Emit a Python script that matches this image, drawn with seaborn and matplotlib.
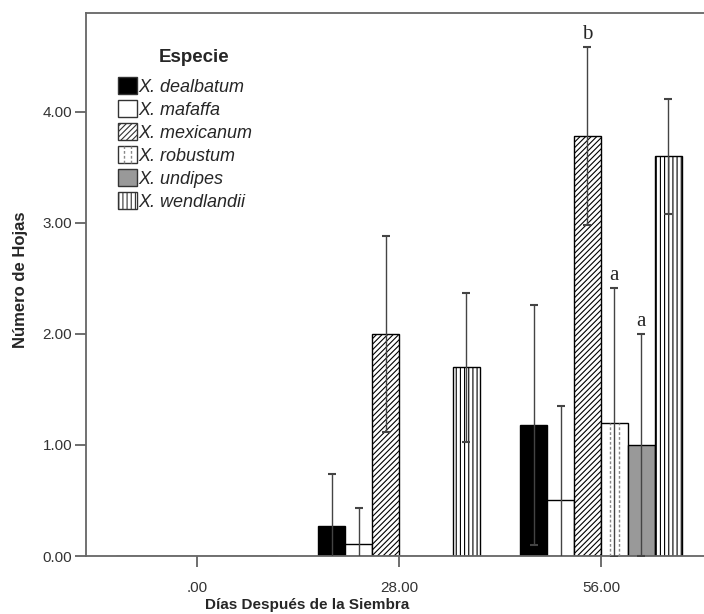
import numpy as np
import pandas as pd
import seaborn as sns
import matplotlib.pyplot as plt
from matplotlib.patches import Patch, Rectangle
from matplotlib.lines import Line2D
from matplotlib.legend_handler import HandlerPatch

# datos
dias = [".00", "28.00", "56.00"]
especies = ["X. dealbatum", "X. mafaffa", "X. mexicanum",
            "X. robustum", "X. undipes", "X. wendlandii"]
# media por especie y dia
media_dealbatum = [0.0, 0.27, 1.18]
media_mafaffa = [0.0, 0.11, 0.50]
media_mexicanum = [0.0, 2.00, 3.78]
media_robustum = [0.0, 0.0, 1.20]
media_undipes = [0.0, 0.0, 1.00]
media_wendlandii = [0.0, 1.70, 3.60]
# error
err_dealbatum = [0.0, 0.47, 1.08]
err_mafaffa = [0.0, 0.32, 0.85]
err_mexicanum = [0.0, 0.88, 0.80]
err_robustum = [0.0, 0.0, 1.21]
err_undipes = [0.0, 0.0, 1.00]
err_wendlandii = [0.0, 0.67, 0.52]
# letras de significancia (especie, dia, letra)
letras = [("X. mexicanum", "56.00", "b"),
          ("X. robustum", "56.00", "a"),
          ("X. undipes", "56.00", "a")]

medias = [media_dealbatum, media_mafaffa, media_mexicanum,
          media_robustum, media_undipes, media_wendlandii]
errores = [err_dealbatum, err_mafaffa, err_mexicanum,
           err_robustum, err_undipes, err_wendlandii]

rows = []
for esp, m, e in zip(especies, medias, errores):
    for d, v, s in zip(dias, m, e):
        rows.append({"dia": d, "especie": esp, "hojas": v, "err": s})
df = pd.DataFrame(rows)

colores = {"X. dealbatum": "black", "X. mafaffa": "white", "X. mexicanum": "white",
           "X. robustum": "white", "X. undipes": "#999999", "X. wendlandii": "white"}
tramas = {"X. dealbatum": "", "X. mafaffa": "", "X. mexicanum": "//////",
          "X. robustum": "", "X. undipes": "", "X. wendlandii": "||||"}
PUNTEADO = "X. robustum"  # lineas verticales punteadas

sns.set_style("white")
plt.rcParams["font.family"] = ["Liberation Sans", "DejaVu Sans"]
plt.rcParams["hatch.linewidth"] = 0.8


class HandlerPunteado(HandlerPatch):
    # cuadro blanco con dos lineas punteadas
    def create_artists(self, legend, orig_handle, xdescent, ydescent,
                       width, height, fontsize, trans):
        r = Rectangle((-xdescent, -ydescent), width, height, facecolor="white",
                      edgecolor="#333333", lw=1.0, transform=trans)
        arts = [r]
        for f in (1 / 3, 2 / 3):
            x = -xdescent + f * width
            arts.append(Line2D([x, x], [-ydescent, -ydescent + height],
                               color="#888888", lw=1.0, ls=(0, (2, 1.5)),
                               transform=trans))
        return arts


fig = plt.figure(figsize=(7.04, 6.14), dpi=100)
ax = fig.add_axes([86 / 704, 1 - 556 / 614, 626 / 704, 543 / 614])

sns.barplot(data=df, x="dia", y="hojas", hue="especie", order=dias,
            hue_order=especies, palette=colores, saturation=1,
            edgecolor="black", linewidth=1.0, errorbar=None,
            width=0.8, ax=ax, legend=False)

for esp, cont in zip(especies, ax.containers):
    sub = df[df.especie == esp].set_index("dia").loc[dias]
    xs, ys = [], []
    for bar in cont:
        bar.set_hatch(tramas[esp])
        x0, w, h = bar.get_x(), bar.get_width(), bar.get_height()
        xs.append(x0 + w / 2)
        ys.append(h)
        if esp == PUNTEADO and h > 0:
            ax.vlines([x0 + w / 3, x0 + 2 * w / 3], 0, h, colors="#888888",
                      linewidth=1.0, linestyles=(0, (2, 1.5)), zorder=3)
    xs = np.array(xs)
    ys = np.array(ys)
    errs = sub["err"].values
    m = errs > 0
    ax.errorbar(xs[m], ys[m], yerr=errs[m], fmt="none", ecolor="#444444",
                elinewidth=1.0, capsize=3, capthick=1.5, zorder=5)
    for e_, d_, letra in letras:
        if e_ == esp:
            i = dias.index(d_)
            ax.text(xs[i], ys[i] + errs[i] + 0.03, letra, ha="center", va="bottom",
                    fontsize=15, family=["Liberation Serif", "DejaVu Serif"])

ax.set_xlim(-0.55, 2.55)
ax.set_ylim(0, 4.89)
ax.set_yticks([0, 1, 2, 3, 4])
ax.set_yticklabels(["0.00", "1.00", "2.00", "3.00", "4.00"])
ax.tick_params(axis="both", direction="out", length=8, width=1.2, pad=2,
               color="#555555", labelcolor="#333333", labelsize=11, left=True, bottom=True)
ax.tick_params(axis="x", pad=10)
for sp in ax.spines.values():
    sp.set_color("#666666")
    sp.set_linewidth(1.3)
ax.spines["right"].set_visible(False)

ax.set_xlabel("Días Después de la Siembra", fontsize=11, fontweight="bold")
ax.xaxis.set_label_coords((307 - 86) / 626, -(598 - 556) / 543)
ax.set_ylabel("Número de Hojas", fontsize=12, fontweight="bold")
ax.yaxis.set_label_coords(-(86 - 28) / 626, (556 - 280) / 543)

handles = [Patch(facecolor=colores[e], edgecolor="#333333", hatch=tramas[e], label=e)
           for e in especies]
ax.legend(handles=handles, loc="upper left", bbox_to_anchor=(0.051, 0.882),
          frameon=False, borderpad=0, borderaxespad=0, handlelength=1.05,
          handleheight=1.05, handletextpad=0.1, labelspacing=0.25,
          prop={"style": "italic", "size": 13},
          handler_map={handles[3]: HandlerPunteado()})
ax.text((194 - 86) / 626, (556 - 58) / 543, "Especie", transform=ax.transAxes,
        ha="center", va="center", fontsize=13.5, fontweight="bold")

fig.savefig("out.png", dpi=100)
